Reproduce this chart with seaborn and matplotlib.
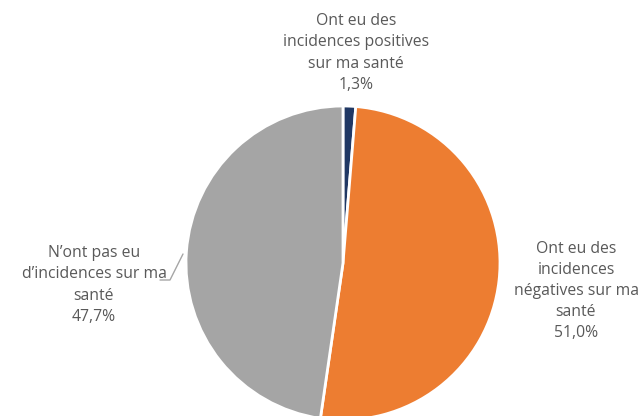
import matplotlib
matplotlib.use("Agg")
import matplotlib.pyplot as plt
import seaborn as sns

labels = ["Ont eu des\nincidences positives\nsur ma santé",
          "Ont eu des\nincidences\nnégatives sur ma\nsanté",
          "N\u2019ont pas eu\nd\u2019incidences sur ma\nsanté"]
values = [1.3, 51.0, 47.7]
colors = ["#203864", "#ED7D31", "#A5A5A5"]

sns.set_theme(style="white")
plt.rcParams['font.family'] = ['Open Sans', 'DejaVu Sans']

fig = plt.figure(figsize=(6.41, 4.16), dpi=100)
ax = fig.add_axes([0, 0, 1, 1])

# pixel geometry of the pie
cx, cy, r = 343, 263, 157
W, H = 641, 416
ax.pie(values, colors=colors, startangle=90, counterclock=False,
       radius=1, wedgeprops=dict(edgecolor="white", linewidth=2))
ax.set_xlim(-cx / r, (W - cx) / r)
ax.set_ylim(-(H - cy) / r, cy / r)
ax.set_aspect("equal")
ax.axis("off")


def px(x, y):
    return (x - cx) / r, (cy - y) / r


pct = [f"{v:.1f}%".replace(".", ",") for v in values]
txt = dict(ha="center", va="center", fontsize=11.3, color="#595959", linespacing=1.42)

ax.text(*px(356, 53), labels[0] + "\n" + pct[0], **txt)
ax.text(*px(576, 291), labels[1] + "\n" + pct[1], **txt)
ax.text(*px(94, 285), labels[2] + "\n" + pct[2], **txt)

# leader line for the grey slice
lx = [px(160, 280)[0], px(170, 280)[0], px(183, 254)[0]]
ly = [px(160, 280)[1], px(170, 280)[1], px(183, 254)[1]]
ax.plot(lx, ly, color="#A6A6A6", linewidth=1)

fig.savefig("out.png", dpi=100, facecolor="white")
